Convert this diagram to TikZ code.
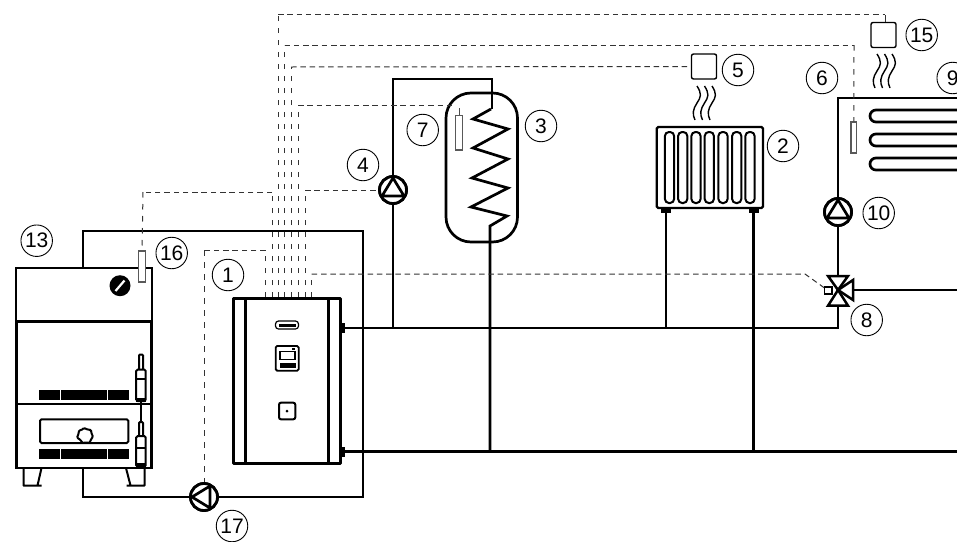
\documentclass[tikz,border=0pt]{standalone}
\usepackage{fontspec}
\setmainfont{Liberation Sans}
\newcommand{\pumptri}[2]{\draw[pipe,line join=round,shift={(#1.center)},rotate=#2] (0,-12)--(-11,6)--(11,6)--cycle;}
\newcommand{\wavetrio}[2]{\foreach \wx in {0,7.5,15}{\draw[thinpipe,shift={(#1+\wx,#2)}] (0,0) .. controls (5,8) and (4,11) .. (0,17) .. controls (-4,23) and (-5,28) .. (-2,34);}}
\tikzset{x=1pt,y=-1pt,
  pipe/.style={line width=2.7pt,black},
  thinpipe/.style={line width=1.4pt,black},
  sigh/.style={line width=1pt,black!80,dash pattern=on 5.5pt off 3.8pt},
  sigv/.style={line width=1pt,black!80,dash pattern=on 5.5pt off 6.5pt},
  lbl/.style={draw,circle,line width=0.9pt,minimum size=31.5pt,inner sep=0pt,font=\fontsize{21}{21}\selectfont},
  pumpc/.style={draw,circle,line width=2.8pt,minimum size=27pt,inner sep=0pt,fill=white},
  sensor/.style={draw=black!65,line width=1.1pt,fill=white,inner sep=0pt},
  roombox/.style={draw,line width=1.4pt,rounded corners=2pt,inner sep=0pt,minimum size=25pt},
}
\begin{document}
\begin{tikzpicture}
\useasboundingbox (0,0) rectangle (957,541);
\clip (0,0) rectangle (957,541);
% named points
\coordinate (unitS) at (340,328);
\coordinate (unitR) at (340,451.5);
\coordinate (valve) at (838,290);
\coordinate (radS) at (666,212);
\coordinate (radR) at (753.5,212);
\node[pumpc] (p4) at (393,190) {};
\node[pumpc] (p10) at (838,212) {};
\node[pumpc] (p17) at (204,497) {};
% pipes
\draw[pipe] (unitS) -- (838,328) -- (valve);
\draw[pipe] (unitR) -- (957,451.5);
\draw[pipe] (83,268) -- (83,231) -- (363,231) -- (363,497) -- (p17);
\draw[pipe] (p17) -- (83,497) -- (83,468);
\draw[pipe] (393,328) -- (p4);
\draw[pipe] (p4) -- (393,79) -- (492,79) -- (492,109);
\draw[pipe,miter limit=4] (491,109) -- (473,119) -- (508,129) -- (473,148) -- (508,159) -- (472,178) -- (508,188) -- (471,207) -- (507,216) -- (490,226) -- (490,451.5);
\draw[pipe] (radS) -- (666,328);
\draw[pipe] (radR) -- (753.5,451.5);
\draw[pipe] (valve) -- (p10);
\draw[pipe] (p10) -- (838,98) -- (957,98);
\draw[pipe] (valve) -- (957,290);
% pumps on top
\node[pumpc] at (p4) {}; \pumptri{p4}{0}
\node[pumpc] at (p10) {}; \pumptri{p10}{0}
\node[pumpc] at (p17) {}; \pumptri{p17}{90}
% floor heating
\foreach \ya/\yb in {110/122,134/146,158/170}{
  \draw[pipe] (957,\ya) -- (876,\ya) arc[start angle=270,end angle=90,radius=6] -- (957,\yb);
}
% tank
\draw[pipe,rounded corners=25pt] (446,93) rectangle (517.5,242);
% radiator
\draw[line width=2.2pt,rounded corners=1.5pt] (656.7,127) rectangle (763,208);
\foreach \cx in {669.5,682.7,696,709.3,723,736.7,750}{
  \draw[line width=2pt,rounded corners=4pt] (\cx-4.6,132) rectangle (\cx+4.6,203);
}
\fill (661,208) rectangle (671,212.5);
\fill (748.5,208) rectangle (758.5,212.5);
\wavetrio{697}{86}
\wavetrio{877}{54}
% room units
\node[roombox] (r5) at (704,66.5) {};
\node[roombox] (r15) at (883.5,35) {};
% sensors
\node[sensor,minimum width=6.5pt,minimum height=34.5pt] (s7) at (459,132.7) {};
\node[sensor,minimum width=5.7pt,minimum height=31pt] (s6) at (853.8,137.5) {};
% boiler
\draw[line width=2.2pt] (15.7,268) rectangle (152.3,321.7);
\draw[line width=2.2pt] (16.5,321.7) rectangle (151.5,467.7);
\draw[line width=3.2pt] (15.7,321.7) -- (152.3,321.7);
\draw[line width=2.8pt] (16.5,404) -- (151.5,404);
\draw[line width=2pt,line join=round] (23.5,468) -- (23.5,485.5) -- (41.5,485.5) (41.5,468) -- (37.5,485.5);
\draw[line width=2pt,line join=round] (144.5,468) -- (144.5,485.5) -- (126.5,485.5) (126,468) -- (130.5,485.5);
\fill (120,285.7) circle[radius=10.5];
\draw[white,line width=2.2pt] (115.5,291) -- (124.5,280.5);
\node[sensor,minimum width=7.3pt,minimum height=31pt] (s16) at (142,266.5) {};
\foreach \gy in {390,449.3}{
  \fill (39.3,\gy) rectangle (128.5,\gy+9.7);
  \draw[white,line width=0.5pt] (60.7,\gy) -- (60.7,\gy+9.7) (107,\gy) -- (107,\gy+9.7);
}
\draw[line width=2pt,rounded corners=1.5pt] (40,419.3) rectangle (128.3,443);
\draw[line width=2pt,fill=white,rounded corners=1pt] (84,428) -- (87.5,429.5) -- (91,430) -- (91.5,433.5) -- (93,436.5) -- (91,439.5) -- (89.5,443) -- (86,442.5) -- (82.5,443) -- (80.5,440) -- (77,437.5) -- (78.5,434) -- (79,430.5) -- (81.5,430) -- cycle;
% burner probes
\draw[line width=2pt] (141,402) -- (141,422);
\draw[line width=2pt,fill=white,rounded corners=1pt] (139,354.5) rectangle (143,370);
\draw[line width=2pt,fill=white,rounded corners=1.5pt] (136.2,369.5) rectangle (145.7,401);
\fill (136.2,378) rectangle (145.7,379.5);
\fill (136.2,398) rectangle (145.7,401.5);
\draw[line width=2pt,fill=white,rounded corners=1pt] (139,422) rectangle (143,436.5);
\draw[line width=2pt,fill=white,rounded corners=1.5pt] (136.2,436) rectangle (145.7,466.7);
\fill (136.2,447) rectangle (145.7,448.5);
\fill (136.2,463) rectangle (145.7,467);
% unit 1
\draw[line width=3pt,line join=round] (233.3,298.3) rectangle (340,463.3);
\draw[line width=2.5pt] (245.7,298.3) -- (245.7,463.3) (328.3,298.3) -- (328.3,463.3);
\fill (340,322.7) rectangle (344.5,333);
\fill (340,446.7) rectangle (344.5,457);
\draw[line width=1.2pt,rounded corners=3pt] (275.5,321) rectangle (298.5,329);
\fill (278.5,323.5) rectangle (295.5,326.5);
\draw[line width=1.8pt,rounded corners=1.5pt] (275.7,346) rectangle (298.7,370.7);
\draw[line width=1.1pt] (280,351.7) rectangle (295,359.3);
\fill (292,348) rectangle (294.5,350);
\fill (279.5,362.7) rectangle (295.5,367.7);
\draw[line width=2pt,rounded corners=2pt] (279,402.7) rectangle (295.3,419.3);
\fill (287,411) circle[radius=1.5];
% signal wires
\foreach \vx/\vy in {278/14,284.5/45,291/67,298/105,305/190,272/192}{
  \draw[sigv] (\vx,297) -- (\vx,\vy);
}
\draw[sigh] (278,14) -- (885,14);
\draw[line width=1pt,black!80] (885,15) -- (885,22);
\draw[sigh] (284.5,45) -- (854,45);
\draw[sigv] (854,45) -- (s6.north);
\draw[sigh] (291,67) -- (r5.west);
\draw[sigh] (298,105) -- (456,105);
\draw[line width=0.9pt,black!70] (459,108) -- (s7.north);
\draw[sigh] (305,190) -- (p4.west);
\draw[sigh] (272,192) -- (143,192);
\draw[sigv] (143,192) -- (s16.north);
\draw[sigv] (265.7,297) -- (265.7,250);
\draw[sigh] (265.7,250) -- (204,250);
\draw[sigv] (204,250) -- (p17.north);
\draw[sigv] (311.7,297) -- (311.7,274);
% valve
\node[inner sep=0pt,minimum size=3pt] (vact) at (828,290.5) {};
\draw[sigh] (311.7,274) -- (805,274) -- (vact);
\draw[line width=2.5pt,fill=white,line join=miter] (828,276) -- (848,276) -- (838,290) -- cycle;
\draw[line width=2.5pt,fill=white] (828,305.7) -- (848,305.7) -- (838,290) -- cycle;
\draw[line width=2.5pt,fill=white] (853,280) -- (853,300) -- (838,290) -- cycle;
\draw[line width=1.8pt,fill=white] (824.5,287) rectangle (832,294);
% labels
\foreach \nm/\lx/\ly/\tx in {a/228/275/1,b/783/146/2,c/541/126/3,d/363/165/4,e/738/70/5,f/822/78/6,g/422.7/130/7,h/866.7/320/8,i/952.7/78/9,j/878.7/213/10,k/36.7/240.7/13,l/921.7/35/15,m/171.7/253/16,n/232/526/17}{
  \node[lbl] (l\nm) at (\lx,\ly) {\tx};
}
\end{tikzpicture}
\end{document}
